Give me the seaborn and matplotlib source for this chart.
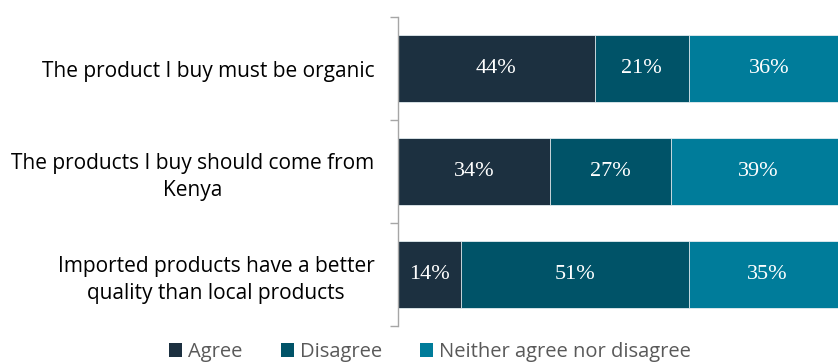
import matplotlib
matplotlib.use("Agg")
import matplotlib.pyplot as plt
import seaborn as sns
import pandas as pd
import numpy as np
from matplotlib.patches import Patch

categories = [
    "The product I buy must be organic",
    "The products I buy should come from\nKenya",
    "Imported products have a better\nquality than local products",
]
series = ["Agree", "Disagree", "Neither agree nor disagree"]
agree = [44, 34, 14]
disagree = [21, 27, 51]
neither = [36, 39, 35]
colors = ["#1c3040", "#005368", "#007c9a"]

sns.set_theme(style="white")
plt.rcParams["font.family"] = ["Open Sans", "DejaVu Sans"]

fig = plt.figure(figsize=(8.38, 3.63), dpi=100)
ax = fig.add_axes([398 / 838, 1 - 326 / 363, 447 / 838, (326 - 17) / 363])

values = [agree, disagree, neither]
cum = np.cumsum(np.array(values), axis=0)
df = pd.DataFrame({"cat": categories})
# draw from the longest cumulative to the shortest so all segments are visible
for i in reversed(range(len(series))):
    df["v"] = cum[i]
    sns.barplot(data=df, x="v", y="cat", orient="h", color=colors[i],
                saturation=1, width=0.66, edgecolor="#e6eef1", linewidth=0.6, ax=ax)

# value labels
for j in range(len(categories)):
    start = 0
    for i in range(len(series)):
        v = values[i][j]
        ax.text(start + v / 2, j, f"{v}%", ha="center", va="center",
                color="white", fontsize=16, family=["Liberation Serif", "DejaVu Serif"])
        start += v

ax.set_xlim(0, 100)
ax.set_ylim(2.5, -0.5)
ax.set_xlabel("")
ax.set_ylabel("")
ax.set_xticks([])
ax.set_yticks(range(len(categories)))
ax.set_yticklabels(categories, fontsize=15, color="black", multialignment="center",
                   linespacing=1.35)
ax.set_yticks([-0.5, 0.5, 1.5, 2.5], minor=True)
ax.tick_params(axis="y", which="major", length=0, pad=17)
ax.tick_params(axis="y", which="minor", length=6, width=1, color="#a6a6a6", direction="out", left=True)
for s in ["top", "right", "bottom"]:
    ax.spines[s].set_visible(False)
ax.spines["left"].set_color("#a6a6a6")
ax.spines["left"].set_linewidth(1)

handles = [Patch(facecolor=c, edgecolor="none") for c in colors]
fig.legend(handles, series, loc="center", bbox_to_anchor=(430 / 838, 1 - 352 / 363),
           ncol=3, frameon=False, fontsize=14.5, labelcolor="#595959",
           handlelength=0.65, handleheight=0.65, handletextpad=0.3, columnspacing=1.9)

fig.savefig("out.png", dpi=100)
